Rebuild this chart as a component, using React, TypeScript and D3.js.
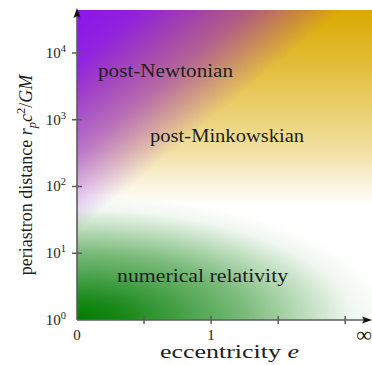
import React from "react";
import * as d3 from "d3";

const W = 372;
const H = 365;

// axis data
const yTickExponents = [0, 1, 2, 3, 4];
const yMaxExponent = 4.644;
const xTickValues = [0, 0.5, 1, 1.5, 2];
const xTickLabels: Record<string, string> = { "0": "0", "1": "1" };
const xMax = 2.2;
const infinityLabel = "∞";
const xTitle = "eccentricity";
const yTitle = "periastron distance";

// regions: label, anchor (e, log10 r), rendered width
const regionNames = ["post-Newtonian", "post-Minkowskian", "numerical relativity"];
const regionE = [0.157, 0.545, 0.299];
const regionLogR = [3.64, 2.67, 0.57];
const regionWidths = [135, 154, 171];

// colours
const purple = "rgb(138,22,238)";
const gold = "rgb(218,170,0)";
const green = "rgb(0,124,0)";

// opacity profiles (offset, opacity)
const purpleStops: [number, number][] = [[0, 1], [0.24, 0.92], [0.655, 0.52], [0.91, 0.14], [1, 0]];
const goldStops: [number, number][] = [[0, 1], [0.256, 0.8], [0.46, 0.61], [0.72, 0.37], [0.92, 0.1], [1, 0]];
const greenStops: [number, number][] = [[0, 1], [0.16, 0.9], [0.24, 0.82], [0.54, 0.52], [0.76, 0.22], [0.88, 0.06], [1, 0]];

const serif = "'Liberation Serif', 'DejaVu Serif', serif";

export default function App() {
  const x0 = 77, x1 = 372, yB = 320, yT = 10;
  const x = d3.scaleLinear().domain([0, xMax]).range([x0, x1]);
  const y = d3.scaleLog().domain([1, Math.pow(10, yMaxExponent)]).range([yB, yT]);

  const dir = [0.64, 0.768];
  const pLen = 170;
  const goldEndY = 205;
  const ry = 125;
  const rxFactor = 2.5;

  const axisCol = "#5c5c5c";
  const textCol = "#1e1e1e";

  return (
    <svg width={W} height={H} style={{ position: "absolute", left: 0, top: 0, background: "#fff" }}>
      <defs>
        <clipPath id="plotClip">
          <rect x={x0} y={yT} width={x1 - x0} height={yB - yT} />
        </clipPath>
        <linearGradient id="goldG" gradientUnits="userSpaceOnUse" x1={0} y1={yT} x2={0} y2={goldEndY}>
          {goldStops.map(([o, a], i) => (
            <stop key={i} offset={o} stopColor={gold} stopOpacity={a} />
          ))}
        </linearGradient>
        <linearGradient id="purpleG" gradientUnits="userSpaceOnUse" x1={x0} y1={yT} x2={x0 + dir[0] * pLen} y2={yT + dir[1] * pLen}>
          {purpleStops.map(([o, a], i) => (
            <stop key={i} offset={o} stopColor={purple} stopOpacity={a} />
          ))}
        </linearGradient>
        <radialGradient id="greenG" gradientUnits="userSpaceOnUse" cx={x0} cy={yB} r={ry}
          gradientTransform={`translate(${x0},${yB}) scale(${rxFactor},1) translate(${-x0},${-yB})`}>
          {greenStops.map(([o, a], i) => (
            <stop key={i} offset={o} stopColor={green} stopOpacity={a} />
          ))}
        </radialGradient>
      </defs>

      <g clipPath="url(#plotClip)">
        <rect x={x0} y={yT} width={x1 - x0} height={yB - yT} fill="#fff" />
        <rect x={x0} y={yT} width={x1 - x0} height={yB - yT} fill="url(#goldG)" />
        <rect x={x0} y={yT} width={x1 - x0} height={yB - yT} fill="url(#purpleG)" />
        <rect x={x0} y={yT} width={x1 - x0} height={yB - yT} fill="url(#greenG)" />
      </g>

      {regionNames.map((n, i) => (
        <text key={n} x={x(regionE[i])} y={y(Math.pow(10, regionLogR[i]))} fontFamily={serif} fontSize={18.5}
          textLength={regionWidths[i]} lengthAdjust="spacingAndGlyphs" fill={textCol}>
          {n}
        </text>
      ))}

      {/* axes */}
      <line x1={x0} y1={yB} x2={x0} y2={yT + 2} stroke={axisCol} strokeWidth={1.6} />
      <line x1={x0} y1={yB} x2={x1 - 2} y2={yB} stroke={axisCol} strokeWidth={1.6} />
      <path d={`M${x0},${yT - 2} L${x0 - 3.5},${yT + 8} L${x0},${yT + 6} L${x0 + 3.5},${yT + 8} Z`} fill="#111" />
      <path d={`M${x1},${yB} L${x1 - 10},${yB - 3.5} L${x1 - 8},${yB} L${x1 - 10},${yB + 3.5} Z`} fill="#111" />

      {yTickExponents.map((e) => {
        const yy = y(Math.pow(10, e));
        return (
          <g key={e}>
            {e > 0 && <line x1={x0 - 5} x2={x0 + 5} y1={yy} y2={yy} stroke={axisCol} strokeWidth={1.5} />}
            <text x={66} y={yy + 5} textAnchor="end" fontFamily={serif} fontSize={15} fill={textCol}>
              10<tspan dy={-6} fontSize={10.5}>{e}</tspan>
            </text>
          </g>
        );
      })}

      {xTickValues.map((v) => {
        const xx = x(v);
        const lab = xTickLabels[String(v)];
        return (
          <g key={v}>
            {v > 0 && <line x1={xx} x2={xx} y1={yB - 4} y2={yB + 4} stroke={axisCol} strokeWidth={1.5} />}
            {lab && (
              <text x={xx} y={340} textAnchor="middle" fontFamily={serif} fontSize={15} fill={textCol}>
                {lab}
              </text>
            )}
          </g>
        );
      })}
      <text x={x1} y={342} textAnchor="end" fontFamily={serif} fontSize={22} fill={textCol}>
        {infinityLabel}
      </text>

      <text x={160} y={358} fontFamily={serif} fontSize={18} fill={textCol} textLength={139} lengthAdjust="spacingAndGlyphs">
        {xTitle} <tspan fontStyle="italic">e</tspan>
      </text>

      <text transform={`translate(32,175) rotate(-90)`} textAnchor="middle" fontFamily={serif} fontSize={18} fill={textCol}>
        {yTitle} <tspan fontStyle="italic">r</tspan>
        <tspan fontStyle="italic" fontSize={12.5} dy={4}>p</tspan>
        <tspan fontStyle="italic" dy={-4}>c</tspan>
        <tspan fontSize={12.5} dy={-7}>2</tspan>
        <tspan dy={7}>/</tspan>
        <tspan fontStyle="italic">GM</tspan>
      </text>
    </svg>
  );
}
